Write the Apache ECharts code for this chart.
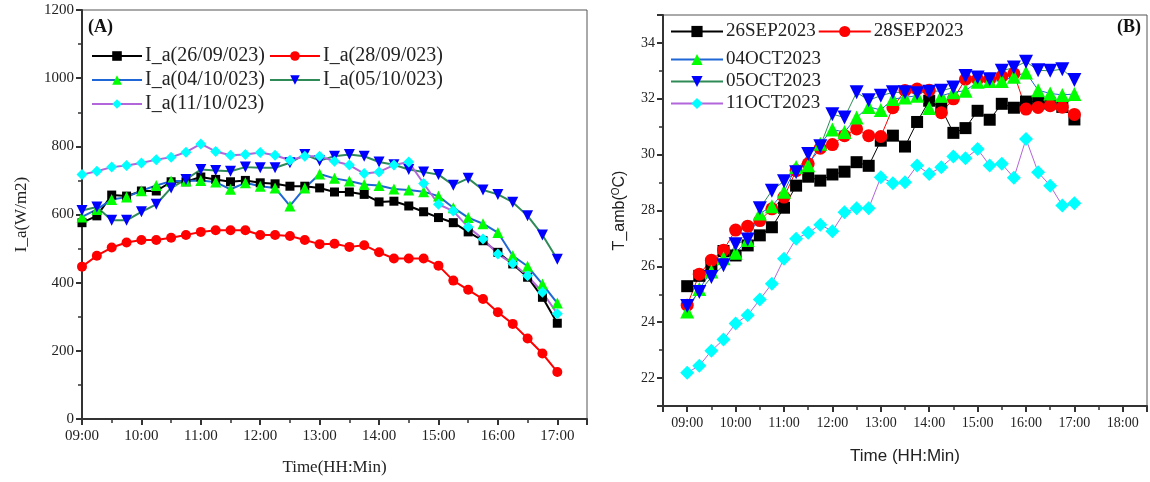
<!DOCTYPE html>
<html>
<head>
<meta charset="utf-8">
<script src="https://cdn.jsdelivr.net/npm/echarts@6/dist/echarts.min.js"></script>
<style>
html,body{margin:0;padding:0;background:#fff;}
#c{width:1150px;height:482px;}
</style>
</head>
<body>
<div id="c"></div>
<script>
// ---- data ----
var times = ['09:00','09:15','09:30','09:45','10:00','10:15','10:30','10:45','11:00','11:15','11:30','11:45',
  '12:00','12:15','12:30','12:45','13:00','13:15','13:30','13:45','14:00','14:15','14:30','14:45',
  '15:00','15:15','15:30','15:45','16:00','16:15','16:30','16:45','17:00'];

// Panel A: I_a (W/m2)
var namesA = ['I_a(26/09/023)','I_a(28/09/023)','I_a(04/10/023)','I_a(05/10/023)','I_a(11/10/023)'];
var ia26 = [576,596,657,654,669,669,696,696,710,703,696,700,693,690,683,683,678,666,666,659,637,639,625,608,591,576,549,523,489,455,416,357,281];
var ia28 = [447,479,503,518,525,525,532,540,549,554,554,554,540,540,537,525,513,514,505,510,489,471,471,471,450,406,379,352,313,279,236,192,138];
var ia04 = [593,615,644,651,670,685,698,698,700,695,674,693,683,678,625,678,719,706,698,688,685,675,672,667,654,620,591,573,547,479,448,396,340];
var ia05 = [612,622,583,583,608,630,678,703,732,729,727,739,737,737,752,776,758,771,776,771,754,746,732,725,717,686,706,672,659,636,596,540,469];
var ia11 = [717,727,739,744,751,761,768,783,807,785,774,776,782,774,759,771,771,756,745,720,725,745,754,691,630,610,563,528,484,456,420,372,309];

// Panel B: T_amb (°C)
var namesB = ['26SEP2023','28SEP2023','04OCT2023','05OCT2023','11OCT2023'];
var t26 = [25.29,25.66,26.05,26.55,26.39,26.75,27.11,27.40,28.10,28.89,29.21,29.07,29.29,29.39,29.73,29.60,30.50,30.68,30.29,31.17,31.93,31.66,30.78,30.95,31.57,31.25,31.82,31.68,31.90,31.90,31.83,31.71,31.26];
var t28 = [24.61,25.72,26.22,26.58,27.30,27.44,27.64,28.06,28.48,29.43,29.67,30.23,30.36,30.68,30.92,30.68,30.65,31.68,32.30,32.35,32.31,31.50,32.00,32.70,32.70,32.70,32.80,32.90,31.63,31.69,31.75,31.70,31.44];
var t04 = [24.38,25.19,25.82,26.29,26.49,26.94,27.89,28.15,28.67,29.56,29.62,30.39,30.90,30.81,31.33,31.71,31.60,31.99,32.05,32.11,31.67,32.11,32.23,32.29,32.61,32.64,32.64,32.79,32.94,32.31,32.19,32.14,32.17];
var t05 = [24.58,25.08,25.62,26.04,26.79,26.96,28.08,28.71,29.05,29.37,30.02,30.30,31.45,31.33,32.23,31.95,32.11,32.23,32.23,32.20,32.25,32.29,32.40,32.82,32.76,32.70,33.00,33.12,33.33,33.02,33.00,33.06,32.67];
var t11 = [22.19,22.44,22.98,23.38,23.95,24.25,24.81,25.38,26.27,26.99,27.20,27.49,27.26,27.94,28.08,28.08,29.19,28.98,29.01,29.61,29.31,29.55,29.93,29.87,30.20,29.61,29.67,29.17,30.56,29.37,28.89,28.18,28.26];

// ---- helpers ----
function toH(s){var p=s.split(':');return +p[0]+(+p[1])/60;}
function pairs(vals){return times.map(function(t,i){return [toH(t), vals[i]];});}
function hhmm(v){ if (Math.abs(v-Math.round(v))>1e-6) return ''; var h=Math.round(v); return (h<10?'0':'')+h+':00'; }

var SERIF = 'Liberation Serif';
var SANS = 'Liberation Sans';

var styles = [
  {line:'#000000', mark:'#000000', sym:'rect', rot:0},
  {line:'#ff0000', mark:'#ff0000', sym:'circle', rot:0},
  {line:'#1f66d6', mark:'#00ff00', sym:'triangle', rot:0},
  {line:'#2e8b57', mark:'#0000ff', sym:'triangle', rot:180},
  {line:'#b266d9', mark:'#00ffff', sym:'diamond', rot:0}
];

function mk(name, vals, st, idx, lw, ss){
  return {
    type:'line', name:name, data:pairs(vals), xAxisIndex:idx, yAxisIndex:idx,
    symbol:st.sym, symbolRotate:st.rot, symbolSize:ss, showSymbol:true,
    lineStyle:{color:st.line, width:lw},
    itemStyle:{color:st.mark, borderWidth:0},
    emphasis:{disabled:true}, animation:false
  };
}

var seriesA = [ia26, ia28, ia04, ia05, ia11];
var seriesB = [t26, t28, t04, t05, t11];
var sizesA = [9, 10, 11, 11, 11];
var sizesB = [12, 13, 14, 14, 14];
var series = [];
for (var i=0;i<5;i++){ series.push(mk(namesA[i], seriesA[i], styles[i], 0, 2, sizesA[i])); }
for (var j=0;j<5;j++){ series.push(mk(namesB[j], seriesB[j], styles[j], 1, 1, sizesB[j])); }

var axisLine = {show:true, lineStyle:{color:'#333', width:2}};

var option = {
  backgroundColor:'#ffffff',
  animation:false,
  grid:[
    {left:82, top:10, width:505, height:409, show:true, borderColor:'#555', borderWidth:1, backgroundColor:'transparent'},
    {left:663, top:15, width:484, height:391, show:true, borderColor:'#555', borderWidth:1, backgroundColor:'transparent'}
  ],
  xAxis:[
    {type:'value', gridIndex:0, min:9, max:17.5, interval:1,
     axisLine:axisLine, axisTick:{show:true, length:6, lineStyle:{color:'#333', width:2}},
     minorTick:{show:true, splitNumber:2, length:4, lineStyle:{color:'#333', width:1.5}},
     splitLine:{show:false},
     axisLabel:{formatter:hhmm, fontFamily:SERIF, fontSize:15, color:'#222', margin:10, showMaxLabel:false},
     name:'Time(HH:Min)', nameLocation:'middle', nameGap:40,
     nameTextStyle:{fontFamily:SERIF, fontSize:17, color:'#222'}},
    {type:'value', gridIndex:1, min:8.5, max:18.5, splitNumber:10,
     axisLine:axisLine, axisTick:{show:true, length:6, lineStyle:{color:'#333', width:2}},
     minorTick:{show:true, splitNumber:2, length:4, lineStyle:{color:'#333', width:1.5}},
     splitLine:{show:false},
     axisLabel:{formatter:hhmm, fontFamily:SERIF, fontSize:14, color:'#222', margin:10, showMaxLabel:false, showMinLabel:false},
     name:'Time (HH:Min)', nameLocation:'middle', nameGap:42,
     nameTextStyle:{fontFamily:SANS, fontSize:17, color:'#222'}}
  ],
  yAxis:[
    {type:'value', gridIndex:0, min:0, max:1200, interval:200,
     axisLine:axisLine, axisTick:{show:true, length:6, lineStyle:{color:'#333', width:2}},
     minorTick:{show:true, splitNumber:2, length:4, lineStyle:{color:'#333', width:1.5}},
     splitLine:{show:false},
     axisLabel:{fontFamily:SERIF, fontSize:15, color:'#222', margin:8, formatter:function(v){return String(v);}},
     name:'I_a(W/m2)', nameLocation:'middle', nameGap:52, nameRotate:90,
     nameTextStyle:{fontFamily:SERIF, fontSize:17, color:'#222'}},
    {type:'value', gridIndex:1, min:21, max:35, splitNumber:7,
     axisLine:axisLine, axisTick:{show:true, length:6, lineStyle:{color:'#333', width:2}},
     minorTick:{show:true, splitNumber:2, length:4, lineStyle:{color:'#333', width:1.5}},
     splitLine:{show:false},
     axisLabel:{fontFamily:SERIF, fontSize:14, color:'#222', margin:8,
       formatter:function(v){ return (Math.round(v)%2===0 && v>21.5 && v<34.5) ? String(v) : ''; }},
     name:'T_amb({s|O}C)', nameLocation:'middle', nameGap:34, nameRotate:90,
     nameTextStyle:{fontFamily:SANS, fontSize:16, color:'#222', rich:{s:{fontFamily:SANS, fontSize:10, verticalAlign:'top', padding:[0,0,8,0]}}}}
  ],
  legend:[
    {data:namesA, left:86, top:41, width:400, itemWidth:50, itemHeight:12, itemGap:4,
     textStyle:{fontFamily:SERIF, fontSize:20, color:'#222', padding:[0,0,0,-2]}, selectedMode:false},
    {data:namesB.slice(0,2), left:665, top:17, orient:'horizontal', itemWidth:52, itemHeight:14, itemGap:2,
     textStyle:{fontFamily:SERIF, fontSize:19, color:'#222', padding:[0,0,0,-2]}, selectedMode:false},
    {data:namesB.slice(2), left:665, top:45, orient:'vertical', itemWidth:52, itemHeight:14, itemGap:3,
     textStyle:{fontFamily:SERIF, fontSize:19, color:'#222', padding:[0,0,0,-2]}, selectedMode:false}
  ],
  graphic:[
    {type:'text', left:88, top:18, style:{text:'(A)', font:'bold 18px "Liberation Serif"', fill:'#111'}},
    {type:'text', left:1117, top:18, style:{text:'(B)', font:'bold 18px "Liberation Serif"', fill:'#111'}}
  ],
  series:series
};

var chart = echarts.init(document.getElementById('c'), null, {renderer:'canvas'});
chart.setOption(option);
</script>
</body>
</html>
